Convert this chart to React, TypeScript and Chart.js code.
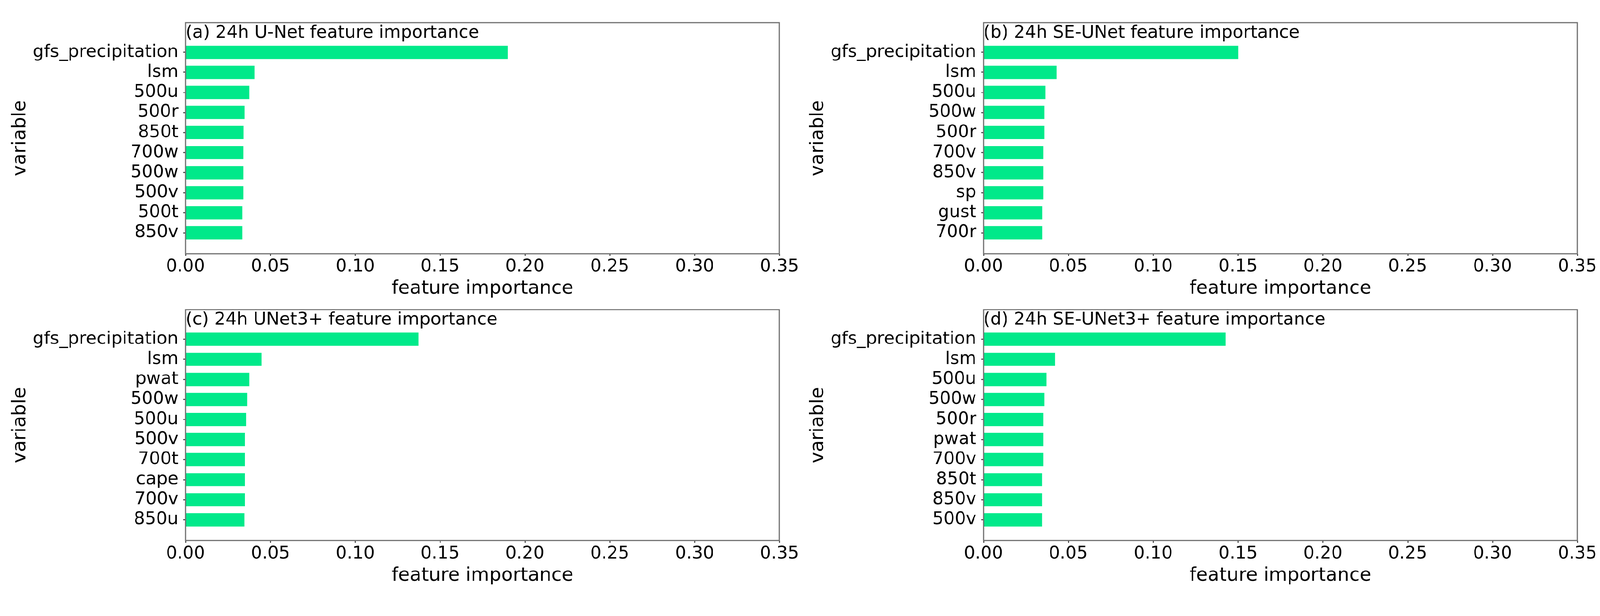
import React, { useEffect, useRef, useState } from 'react';
import { Chart, registerables } from 'chart.js';

Chart.register(...registerables);

// ---- data ----
const xTicks = [0, 0.05, 0.1, 0.15, 0.2, 0.25, 0.3, 0.35];

const unetLabels = ['gfs_precipitation', 'lsm', '500u', '500r', '850t', '700w', '500w', '500v', '500t', '850v'];
const unetValues = [0.19, 0.0406, 0.0376, 0.0347, 0.0341, 0.034, 0.034, 0.034, 0.0334, 0.0334];

const seunetLabels = ['gfs_precipitation', 'lsm', '500u', '500w', '500r', '700v', '850v', 'sp', 'gust', '700r'];
const seunetValues = [0.1502, 0.0431, 0.0365, 0.0359, 0.0359, 0.0353, 0.0353, 0.0353, 0.0347, 0.0347];

const unet3Labels = ['gfs_precipitation', 'lsm', 'pwat', '500w', '500u', '500v', '700t', 'cape', '700v', '850u'];
const unet3Values = [0.1372, 0.0448, 0.0376, 0.0364, 0.0358, 0.0351, 0.0351, 0.0351, 0.0351, 0.0346];

const seunet3Labels = ['gfs_precipitation', 'lsm', '500u', '500w', '500r', 'pwat', '700v', '850t', '850v', '500v'];
const seunet3Values = [0.1428, 0.0422, 0.0371, 0.0359, 0.0353, 0.0353, 0.0353, 0.0346, 0.0346, 0.0346];

const panelTitles = [
  '(a) 24h U-Net feature importance',
  '(b) 24h SE-UNet feature importance',
  '(c) 24h UNet3+ feature importance',
  '(d) 24h SE-UNet3+ feature importance',
];

const xTitle = 'feature importance';
const yTitle = 'variable';

// ---- styles ----
const FONT = 'DejaVu Sans';
const BAR_COLOR = '#00E98A';
const FRAME_COLOR = '#707070';
const PLOT_H = 612.7;
const YAXIS_W = 492;
const DESIGN_W = 4243;
const DESIGN_H = 1577;

const framePlugin = {
  id: 'frame',
  afterDatasetsDraw(chart: any) {
    const { ctx, chartArea } = chart;
    const { left, top, right, bottom } = chartArea;
    ctx.save();
    ctx.strokeStyle = FRAME_COLOR;
    ctx.lineWidth = 3;
    ctx.strokeRect(left, top, right - left, bottom - top);
    ctx.restore();
  },
};

type PanelProps = {
  title: string;
  labels: string[];
  values: number[];
  left: number;
  top: number;
  width: number;
  height: number;
  padTop: number;
  padRight: number;
};

function Panel({ title, labels, values, left, top, width, height, padTop, padRight }: PanelProps) {
  const ref = useRef<HTMLCanvasElement | null>(null);

  useEffect(() => {
    if (!ref.current) return;
    const xAxisH = height - padTop - PLOT_H;
    const chart = new Chart(ref.current, {
      type: 'bar',
      data: {
        datasets: [
          {
            data: values.map((v, i) => ({ x: v, y: i })),
            backgroundColor: BAR_COLOR,
            borderWidth: 0,
            barPercentage: 0.66,
            categoryPercentage: 1,
          },
        ],
      },
      options: {
        indexAxis: 'y',
        responsive: false,
        devicePixelRatio: 1,
        animation: false,
        layout: { padding: { left: 0, right: padRight, top: padTop, bottom: 0 } },
        plugins: {
          legend: { display: false },
          tooltip: { enabled: false },
          title: {
            display: true,
            text: title,
            position: 'top',
            align: 'start',
            fullSize: false,
            color: '#000',
            font: { family: FONT, size: 46.5, weight: 'normal', lineHeight: 1.2 },
            padding: { top: 0, bottom: -55.8 },
          },
        },
        scales: {
          x: {
            type: 'linear',
            position: 'bottom',
            min: 0,
            max: 0.35,
            offset: false,
            afterBuildTicks: (s: any) => {
              s.ticks = xTicks.map((v) => ({ value: v }));
            },
            afterFit: (s: any) => {
              s.height = xAxisH;
            },
            ticks: {
              autoSkip: false,
              maxRotation: 0,
              padding: 1,
              color: '#000',
              font: { family: FONT, size: 46.5, lineHeight: 1.2 },
              callback: (v: any) => Number(v).toFixed(2),
            },
            grid: {
              offset: false,
              drawOnChartArea: false,
              drawTicks: true,
              tickLength: 6,
              tickColor: '#333',
              tickWidth: 2.5,
            },
            border: { display: false },
            title: {
              display: true,
              text: xTitle,
              color: '#000',
              font: { family: FONT, size: 50, lineHeight: 1.2 },
              padding: { top: 0, bottom: 14 },
            },
          },
          y: {
            type: 'linear',
            position: 'left',
            reverse: true,
            offset: false,
            bounds: 'data',
            min: -1.48,
            max: 10.04,
            afterBuildTicks: (s: any) => {
              s.ticks = labels.map((_, i) => ({ value: i }));
            },
            afterFit: (s: any) => {
              s.width = YAXIS_W;
            },
            ticks: {
              autoSkip: false,
              padding: 13,
              color: '#000',
              font: { family: FONT, size: 46.5, lineHeight: 1.2 },
              callback: (v: any) => labels[v] ?? '',
            },
            grid: {
              offset: false,
              drawOnChartArea: false,
              drawTicks: true,
              tickLength: 6,
              tickColor: '#333',
              tickWidth: 2.5,
            },
            border: { display: false },
            title: {
              display: true,
              text: yTitle,
              color: '#000',
              font: { family: FONT, size: 50, lineHeight: 1.2 },
              padding: { top: 23.6, bottom: 0 },
            },
          },
        },
      } as any,
      plugins: [framePlugin],
    });
    return () => chart.destroy();
  }, [title, labels, values, width, height, padTop, padRight]);

  return (
    <canvas
      ref={ref}
      width={width}
      height={height}
      style={{ position: 'absolute', left, top, width, height }}
    />
  );
}

export default function App() {
  const [s] = useState(() => {
    const w = typeof window !== 'undefined' ? window.innerWidth : DESIGN_W;
    return w / DESIGN_W;
  });

  return (
    <div style={{ position: 'fixed', left: 0, top: 0, right: 0, bottom: 0, overflow: 'hidden', background: '#fff' }}>
      <div
        style={{
          position: 'absolute',
          left: 0,
          top: 0,
          width: DESIGN_W,
          height: DESIGN_H,
          background: '#fff',
          transform: `scale(${s})`,
          transformOrigin: '0 0',
        }}
      >
        <Panel title={panelTitles[0]} labels={unetLabels} values={unetValues} left={0} top={0} width={2130} height={810} padTop={60} padRight={63} />
        <Panel title={panelTitles[1]} labels={seunetLabels} values={seunetValues} left={2116} top={0} width={2127} height={810} padTop={60} padRight={60} />
        <Panel title={panelTitles[2]} labels={unet3Labels} values={unet3Values} left={0} top={761} width={2130} height={810} padTop={60} padRight={63} />
        <Panel title={panelTitles[3]} labels={seunet3Labels} values={seunet3Values} left={2116} top={761} width={2127} height={810} padTop={60} padRight={60} />
      </div>
    </div>
  );
}
